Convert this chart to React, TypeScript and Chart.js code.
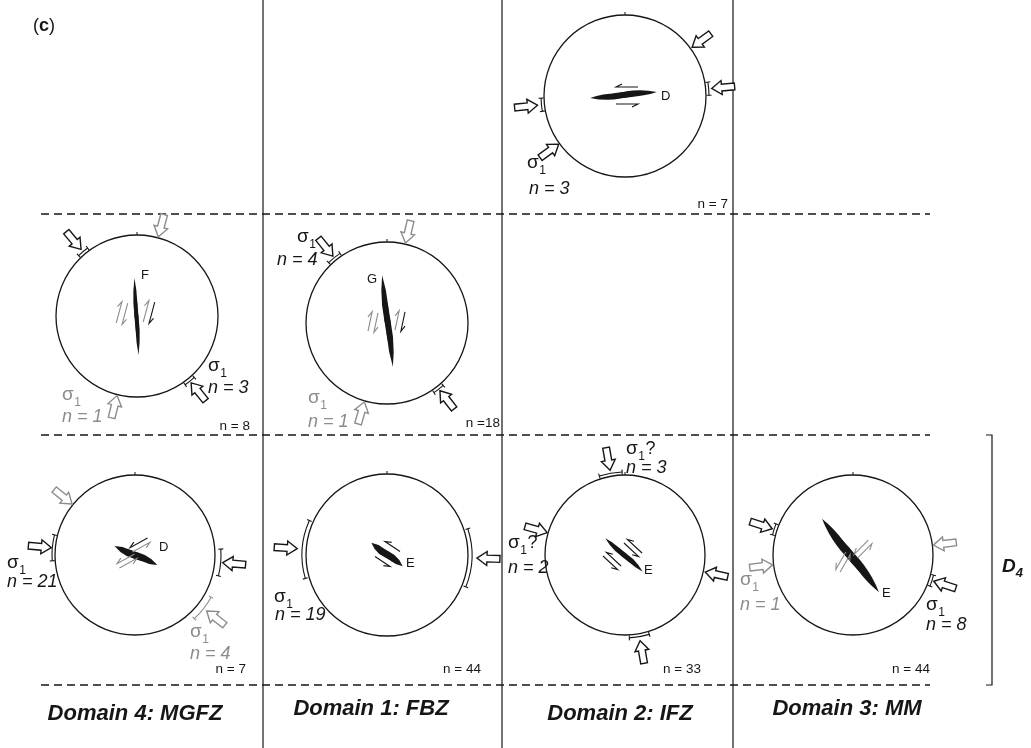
import React, { useEffect, useRef } from "react";
import { Chart, registerables } from "chart.js";

Chart.register(...registerables);

const W = 1031;
const H = 748;
const BLACK = "#161616";
const GRAY = "#8c8c8c";
const SANS = '"Liberation Sans", Arial, Helvetica, sans-serif';

// frame: vertical dividers and dashed row separators (diagram units = pixels)
const dividerX = [263, 502, 733];
const dashedRowY = [214, 435, 685];
const dashedSpan = [41, 930];
const d4Bracket = { x: 992, top: 435, bottom: 685, tick: 6 };

// stereonet primitives (centre x, centre y, radius)
const netX = [625, 137, 387, 135, 387, 625, 853];
const netY = [96, 316, 323, 555, 555, 555, 555];
const netR = [81, 81, 81, 80, 81, 80, 80];

// compression (sigma1) arrows: net, azimuth, grey?, gap to tip, bracket half-angle, bracket gap
const arrows = [
  { net: 0, az: 54, gray: false, gap: 2, bh: 0, bg: 0 },
  { net: 0, az: 85, gray: false, gap: 6, bh: 4.5, bg: 3 },
  { net: 0, az: 264, gray: false, gap: 7, bh: 4.5, bg: 3 },
  { net: 0, az: 234, gray: false, gap: 1, bh: 0, bg: 0 },
  { net: 1, az: 320, gray: false, gap: 6, bh: 4, bg: 3 },
  { net: 1, az: 15, gray: true, gap: 1, bh: 0, bg: 0 },
  { net: 1, az: 141, gray: false, gap: 5, bh: 4, bg: 3 },
  { net: 1, az: 194, gray: true, gap: 1, bh: 0, bg: 0 },
  { net: 2, az: 321, gray: false, gap: 5, bh: 5, bg: 3 },
  { net: 2, az: 13, gray: true, gap: 1, bh: 0, bg: 0 },
  { net: 2, az: 142, gray: false, gap: 5, bh: 4, bg: 3 },
  { net: 2, az: 196, gray: true, gap: 1, bh: 0, bg: 0 },
  { net: 3, az: 309, gray: true, gap: 1, bh: 0, bg: 0 },
  { net: 3, az: 275, gray: false, gap: 4, bh: 9, bg: 3 },
  { net: 3, az: 95, gray: false, gap: 8, bh: 9, bg: 6 },
  { net: 3, az: 128, gray: true, gap: 11, bh: 9, bg: 7 },
  { net: 4, az: 274, gray: false, gap: 9, bh: 20, bg: 4 },
  { net: 4, az: 92, gray: false, gap: 9, bh: 20, bg: 4 },
  { net: 5, az: 350, gray: false, gap: 6, bh: 8, bg: 3 },
  { net: 5, az: 286, gray: false, gap: 1, bh: 0, bg: 0 },
  { net: 5, az: 102, gray: false, gap: 2, bh: 0, bg: 0 },
  { net: 5, az: 170, gray: false, gap: 7, bh: 7, bg: 3 },
  { net: 6, az: 288, gray: false, gap: 5, bh: 4, bg: 3 },
  { net: 6, az: 263, gray: true, gap: 1, bh: 0, bg: 0 },
  { net: 6, az: 83, gray: true, gap: 1, bh: 0, bg: 0 },
  { net: 6, az: 108, gray: false, gap: 5, bh: 4, bg: 3 },
];

// faults: centre, strike azimuth, length, width, label and label position
const faults = [
  { x: 623.5, y: 95, az: 86.6, len: 67, w: 6, label: "D", lx: 661, ly: 100 },
  { x: 136.5, y: 316.5, az: 357.8, len: 77, w: 4, label: "F", lx: 141, ly: 279 },
  { x: 387.5, y: 321, az: 354.4, len: 92, w: 6, label: "G", lx: 367, ly: 283 },
  { x: 136, y: 555.5, az: 116.6, len: 47, w: 7, label: "D", lx: 159, ly: 551 },
  { x: 387, y: 554.5, az: 129.8, len: 39, w: 7, label: "E", lx: 406, ly: 567 },
  { x: 624, y: 555, az: 133.4, len: 50, w: 5, label: "E", lx: 644, ly: 574 },
  { x: 850.5, y: 555.5, az: 143.7, len: 93, w: 8, label: "E", lx: 882, ly: 597 },
];

// shear-sense half-arrow pairs
const shears = [
  { x: 627, y: 95.5, az: 270, len: 22, sep: 17, a: "k", b: "k", sense: 1 },
  { x: 122, y: 313, az: 15, len: 22, sep: 6, a: "g", b: "g", sense: -1 },
  { x: 149, y: 312, az: 15, len: 22, sep: 6, a: "k", b: "g", sense: -1 },
  { x: 373, y: 322, az: 12, len: 20, sep: 6, a: "g", b: "g", sense: -1 },
  { x: 400, y: 321, az: 12, len: 20, sep: 6, a: "k", b: "g", sense: -1 },
  { x: 140, y: 545, az: 61, len: 20, sep: 5, a: "g", b: "k", sense: 1 },
  { x: 127, y: 561, az: 61, len: 20, sep: 5, a: "g", b: "g", sense: 1 },
  { x: 387.5, y: 554, az: 303.7, len: 18, sep: 18, a: "k", b: "k", sense: 1 },
  { x: 612, y: 561, az: 313, len: 20, sep: 5, a: "k", b: "k", sense: 1 },
  { x: 633, y: 548, az: 313, len: 20, sep: 5, a: "k", b: "k", sense: 1 },
  { x: 843, y: 562, az: 30, len: 20, sep: 5, a: "g", b: "g", sense: 1 },
  { x: 863, y: 549, az: 45, len: 20, sep: 5, a: "g", b: "g", sense: 1 },
];

// text
const sigmaLabels = [
  { x: 527, y: 168, gray: false, q: false },
  { x: 208, y: 371, gray: false, q: false },
  { x: 62, y: 400, gray: true, q: false },
  { x: 297, y: 242, gray: false, q: false },
  { x: 308, y: 403, gray: true, q: false },
  { x: 7, y: 568, gray: false, q: false },
  { x: 190, y: 637, gray: true, q: false },
  { x: 274, y: 602, gray: false, q: false },
  { x: 626, y: 454, gray: false, q: true },
  { x: 508, y: 548, gray: false, q: true },
  { x: 740, y: 585, gray: true, q: false },
  { x: 926, y: 610, gray: false, q: false },
];
const countLabels = [
  { t: "n = 3", x: 529, y: 194, gray: false },
  { t: "n = 3", x: 208, y: 393, gray: false },
  { t: "n = 1", x: 62, y: 422, gray: true },
  { t: "n = 4", x: 277, y: 265, gray: false },
  { t: "n = 1", x: 308, y: 427, gray: true },
  { t: "n = 21", x: 7, y: 587, gray: false },
  { t: "n = 4", x: 190, y: 659, gray: true },
  { t: "n = 19", x: 275, y: 620, gray: false },
  { t: "n = 3", x: 626, y: 473, gray: false },
  { t: "n = 2", x: 508, y: 573, gray: false },
  { t: "n = 1", x: 740, y: 610, gray: true },
  { t: "n = 8", x: 926, y: 630, gray: false },
];
const totalLabels = [
  { t: "n = 7", x: 728, y: 208 },
  { t: "n = 8", x: 250, y: 430 },
  { t: "n =18", x: 500, y: 427 },
  { t: "n = 7", x: 246, y: 673 },
  { t: "n = 44", x: 481, y: 673 },
  { t: "n = 33", x: 701, y: 673 },
  { t: "n = 44", x: 930, y: 673 },
];
const domainLabels = [
  { t: "Domain 4: MGFZ", x: 135, y: 720 },
  { t: "Domain 1: FBZ", x: 371, y: 715 },
  { t: "Domain 2: IFZ", x: 620, y: 720 },
  { t: "Domain 3: MM", x: 847, y: 715 },
];

const rad = (d: number) => (d * Math.PI) / 180;

const diagramPlugin = {
  id: "diagram",
  afterDatasetsDraw(chart: any) {
    const ctx: CanvasRenderingContext2D = chart.ctx;
    const xs = chart.scales.x;
    const ys = chart.scales.y;
    const px = (v: number) => xs.getPixelForValue(v);
    const py = (v: number) => ys.getPixelForValue(v);
    const k = px(1) - px(0);
    ctx.save();
    ctx.lineCap = "butt";
    ctx.lineJoin = "miter";

    // D4 bracket
    ctx.strokeStyle = BLACK;
    ctx.lineWidth = 1.2;
    ctx.beginPath();
    ctx.moveTo(px(d4Bracket.x - d4Bracket.tick), py(d4Bracket.top));
    ctx.lineTo(px(d4Bracket.x), py(d4Bracket.top));
    ctx.lineTo(px(d4Bracket.x), py(d4Bracket.bottom));
    ctx.lineTo(px(d4Bracket.x - d4Bracket.tick), py(d4Bracket.bottom));
    ctx.stroke();

    // north ticks
    netX.forEach((cx, i) => {
      ctx.beginPath();
      ctx.lineWidth = 1;
      ctx.moveTo(px(cx), py(netY[i] - netR[i]));
      ctx.lineTo(px(cx), py(netY[i] - netR[i] - 3));
      ctx.stroke();
    });

    // arrows
    arrows.forEach((a) => {
      const cx = px(netX[a.net]);
      const cy = py(netY[a.net]);
      const r = netR[a.net] * k;
      const ox = Math.sin(rad(a.az));
      const oy = -Math.cos(rad(a.az));
      const col = a.gray ? GRAY : BLACK;
      const tipX = cx + ox * (r + a.gap * k);
      const tipY = cy + oy * (r + a.gap * k);
      const ux = -ox;
      const uy = -oy; // travel direction (inward)
      const qx = -uy;
      const qy = ux;
      const L = 23 * k, hl = 10 * k, hw = 7 * k, sw = 3.4 * k;
      const pts = [
        [0, 0], [-hl, hw], [-hl, sw], [-L, sw], [-L, -sw], [-hl, -sw], [-hl, -hw],
      ];
      ctx.beginPath();
      pts.forEach(([s, p], j) => {
        const X = tipX + ux * s + qx * p;
        const Y = tipY + uy * s + qy * p;
        if (j === 0) ctx.moveTo(X, Y);
        else ctx.lineTo(X, Y);
      });
      ctx.closePath();
      ctx.fillStyle = "#ffffff";
      ctx.fill();
      ctx.strokeStyle = col;
      ctx.lineWidth = 1.4;
      ctx.stroke();

      if (a.bh > 0) {
        const R = r + a.bg * k;
        const a0 = rad(a.az - a.bh - 90);
        const a1 = rad(a.az + a.bh - 90);
        ctx.beginPath();
        ctx.lineWidth = 1.1;
        ctx.arc(cx, cy, R, a0, a1);
        ctx.stroke();
        [a0, a1].forEach((ang) => {
          ctx.beginPath();
          ctx.moveTo(cx + Math.cos(ang) * (R - 2.5 * k), cy + Math.sin(ang) * (R - 2.5 * k));
          ctx.lineTo(cx + Math.cos(ang) * (R + 2.5 * k), cy + Math.sin(ang) * (R + 2.5 * k));
          ctx.stroke();
        });
      }
    });

    // faults (overlapping en-echelon lenses)
    faults.forEach((f) => {
      const cx = px(f.x);
      const cy = py(f.y);
      const dx = Math.sin(rad(f.az));
      const dy = -Math.cos(rad(f.az));
      const nx = Math.cos(rad(f.az));
      const ny = Math.sin(rad(f.az));
      const L = f.len * k;
      const w = f.w * k;
      const lens = (t0: number, t1: number, off: number) => {
        const ax = cx + dx * L * t0 + nx * off;
        const ay = cy + dy * L * t0 + ny * off;
        const bx = cx + dx * L * t1 + nx * off;
        const by = cy + dy * L * t1 + ny * off;
        const mx = (ax + bx) / 2;
        const my = (ay + by) / 2;
        ctx.beginPath();
        ctx.moveTo(ax, ay);
        ctx.quadraticCurveTo(mx + nx * w, my + ny * w, bx, by);
        ctx.quadraticCurveTo(mx - nx * w, my - ny * w, ax, ay);
        ctx.closePath();
        ctx.fill();
      };
      ctx.fillStyle = BLACK;
      lens(-0.5, 0.15, w * 0.15);
      lens(-0.15, 0.5, -w * 0.15);
      lens(-0.3, 0.3, 0);
      ctx.font = `${13 * k}px ${SANS}`;
      ctx.textAlign = "left";
      ctx.textBaseline = "alphabetic";
      ctx.fillText(f.label, px(f.lx), py(f.ly));
    });

    // shear-sense half arrows
    shears.forEach((s) => {
      const cx = px(s.x);
      const cy = py(s.y);
      const dx = Math.sin(rad(s.az)) * s.sense;
      const dy = -Math.cos(rad(s.az)) * s.sense;
      const nx = Math.cos(rad(s.az));
      const ny = Math.sin(rad(s.az));
      const L = s.len * k;
      const half = (x0: number, y0: number, ddx: number, ddy: number, bx: number, by: number, col: string) => {
        const hx = x0 + (ddx * L) / 2;
        const hy = y0 + (ddy * L) / 2;
        ctx.beginPath();
        ctx.strokeStyle = col === "g" ? GRAY : BLACK;
        ctx.lineWidth = 1.1;
        ctx.moveTo(x0 - (ddx * L) / 2, y0 - (ddy * L) / 2);
        ctx.lineTo(hx, hy);
        ctx.lineTo(hx - ddx * 6 * k + bx * 3 * k, hy - ddy * 6 * k + by * 3 * k);
        ctx.stroke();
      };
      const o = (s.sep * k) / 2;
      half(cx + nx * o, cy + ny * o, dx, dy, nx, ny, s.a);
      half(cx - nx * o, cy - ny * o, -dx, -dy, -nx, -ny, s.b);
    });

    // sigma labels
    ctx.textAlign = "left";
    ctx.textBaseline = "alphabetic";
    sigmaLabels.forEach((s) => {
      ctx.fillStyle = s.gray ? GRAY : BLACK;
      ctx.font = `${19 * k}px ${SANS}`;
      const x0 = px(s.x);
      const y0 = py(s.y);
      ctx.fillText("σ", x0, y0);
      const w1 = ctx.measureText("σ").width;
      ctx.font = `${12 * k}px ${SANS}`;
      ctx.fillText("1", x0 + w1 + 0.5, y0 + 6 * k);
      const w2 = ctx.measureText("1").width;
      if (s.q) {
        ctx.font = `${18 * k}px ${SANS}`;
        ctx.fillText("?", x0 + w1 + w2 + 1, y0);
      }
    });

    // n = k labels
    countLabels.forEach((c) => {
      ctx.fillStyle = c.gray ? GRAY : BLACK;
      ctx.font = `italic ${18 * k}px ${SANS}`;
      ctx.fillText(c.t, px(c.x), py(c.y));
    });

    // totals
    ctx.textAlign = "right";
    ctx.fillStyle = BLACK;
    ctx.font = `${13.5 * k}px ${SANS}`;
    totalLabels.forEach((c) => ctx.fillText(c.t, px(c.x), py(c.y)));

    // domain names
    ctx.textAlign = "center";
    ctx.font = `bold italic ${22 * k}px ${SANS}`;
    domainLabels.forEach((d) => ctx.fillText(d.t, px(d.x), py(d.y)));

    // panel letter
    ctx.textAlign = "left";
    let x = px(33);
    const yb = py(31);
    ctx.font = `${18 * k}px ${SANS}`;
    ctx.fillText("(", x, yb);
    x += ctx.measureText("(").width;
    ctx.font = `bold ${18 * k}px ${SANS}`;
    ctx.fillText("c", x, yb);
    x += ctx.measureText("c").width;
    ctx.font = `${18 * k}px ${SANS}`;
    ctx.fillText(")", x, yb);

    // D4
    ctx.font = `bold italic ${19 * k}px ${SANS}`;
    ctx.fillText("D", px(1002), py(572));
    const wd = ctx.measureText("D").width;
    ctx.font = `bold italic ${13 * k}px ${SANS}`;
    ctx.fillText("4", px(1002) + wd, py(577));

    ctx.restore();
  },
};

export default function App() {
  const ref = useRef<HTMLCanvasElement | null>(null);

  useEffect(() => {
    if (!ref.current) return;
    const datasets: any[] = [];
    dividerX.forEach((x) =>
      datasets.push({
        type: "line",
        data: [{ x, y: 0 }, { x, y: H }],
        borderColor: BLACK,
        borderWidth: 1.2,
        pointRadius: 0,
        showLine: true,
      })
    );
    dashedRowY.forEach((y) =>
      datasets.push({
        type: "line",
        data: [{ x: dashedSpan[0], y }, { x: dashedSpan[1], y }],
        borderColor: BLACK,
        borderWidth: 1.3,
        borderDash: [8, 5],
        pointRadius: 0,
        showLine: true,
      })
    );
    datasets.push({
      type: "scatter",
      data: netX.map((x, i) => ({ x, y: netY[i] })),
      pointRadius: netR,
      pointBorderColor: BLACK,
      pointBackgroundColor: "rgba(0,0,0,0)",
      pointBorderWidth: 1.3,
    });

    const chart = new Chart(ref.current, {
      type: "scatter",
      data: { datasets },
      options: {
        animation: false,
        responsive: false,
        devicePixelRatio: 1,
        events: [],
        layout: { padding: 0, autoPadding: false },
        plugins: { legend: { display: false }, tooltip: { enabled: false }, title: { display: false } },
        scales: {
          x: { type: "linear", min: 0, max: W, display: false },
          y: { type: "linear", min: 0, max: H, reverse: true, display: false },
        },
      },
      plugins: [diagramPlugin],
    } as any);
    return () => chart.destroy();
  }, []);

  return (
    <div style={{ position: "absolute", left: 0, top: 0, width: W, height: H, background: "#fff" }}>
      <canvas ref={ref} width={W} height={H} style={{ display: "block", width: W, height: H }} />
    </div>
  );
}
